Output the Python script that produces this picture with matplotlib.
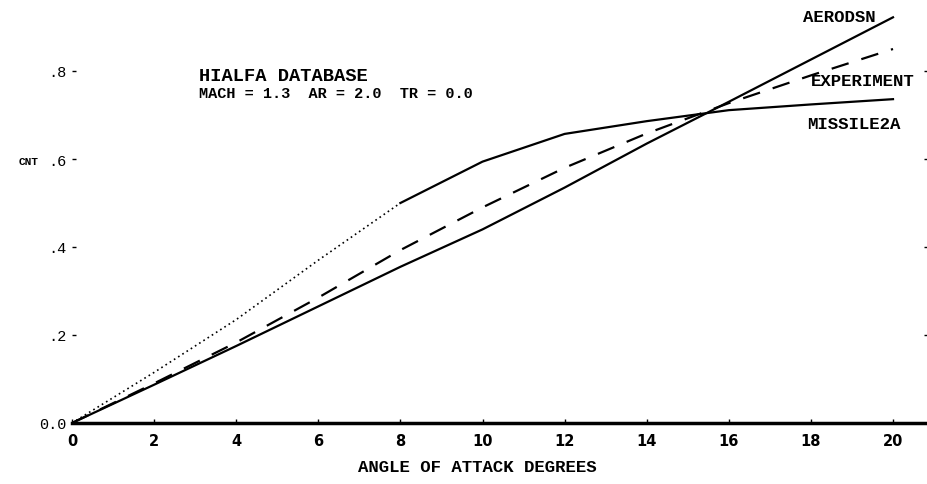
import matplotlib
matplotlib.use("Agg")
import matplotlib.pyplot as plt

# angle of attack (deg) and normal force coefficient
alpha = [0, 2, 4, 6, 8, 10, 12, 14, 16, 18, 20]
cn_aerodsn = [0, 0.087, 0.175, 0.265, 0.355, 0.44, 0.535, 0.635, 0.73, 0.826, 0.922]
cn_experiment = [0, 0.09, 0.183, 0.285, 0.393, 0.49, 0.58, 0.658, 0.727, 0.79, 0.85]
cn_missile = [0, 0.115, 0.235, 0.37, 0.5, 0.594, 0.657, 0.686, 0.711, 0.724, 0.736]

xticks = [0, 2, 4, 6, 8, 10, 12, 14, 16, 18, 20]
yticks = [0.0, 0.2, 0.4, 0.6, 0.8]
ytick_labels = ["0.0", ".2", ".4", ".6", ".8"]

mono = "Liberation Mono"

fig = plt.figure(figsize=(9.28, 4.85), dpi=100)
ax = fig.add_axes([72 / 928, 61 / 485, (928 - 72) / 928, 424 / 485])

ax.plot(alpha, cn_aerodsn, color="black", lw=1.6)
ax.plot(alpha, cn_experiment, color="black", lw=1.6, dashes=(8, 6))
# missile2a drawn dotted up to 8 deg, solid after
ax.plot(alpha[:5], cn_missile[:5], color="black", lw=1.2, linestyle=(0, (1, 2)))
ax.plot(alpha[4:], cn_missile[4:], color="black", lw=1.6)

ax.set_xlim(0, (928 - 72) / 41.05)
ax.set_ylim(0, 424 / 440)

for s in ["top", "left", "right"]:
    ax.spines[s].set_visible(False)
ax.spines["bottom"].set_linewidth(2.5)

ax.set_xticks(xticks)
ax.set_xticklabels([str(t) for t in xticks], fontweight="bold", fontsize=10.5)
ax.tick_params(axis="x", direction="in", length=3, width=1, pad=7)

ax.set_yticks(yticks)
ax.set_yticklabels(ytick_labels, family=mono, fontsize=11)
ax.tick_params(axis="y", left=True, right=True, direction="in", length=3, width=1, pad=4)

ax.text(-1.3, 0.595, "CNT", family=mono, fontweight="bold", fontsize=8, va="center", ha="left")

ax.text(3.1, 0.789, "HIALFA DATABASE", family=mono, fontweight="bold", fontsize=13.5, va="center")
ax.text(3.1, 0.75, "MACH = 1.3  AR = 2.0  TR = 0.0", family=mono, fontweight="bold", fontsize=11, va="center")

ax.text(17.8, 0.923, "AERODSN", family=mono, fontweight="bold", fontsize=12.5, va="center")
ax.text(18.0, 0.778, "EXPERIMENT", family=mono, fontweight="bold", fontsize=12.5, va="center")
ax.text(17.9, 0.68, "MISSILE2A", family=mono, fontweight="bold", fontsize=12.5, va="center")

ax.set_xlabel("ANGLE OF ATTACK DEGREES", family=mono, fontweight="bold", fontsize=12.5)
ax.xaxis.set_label_coords(477 / 856 - 72 / 856, -0.085)

fig.savefig("out.png", dpi=100)
